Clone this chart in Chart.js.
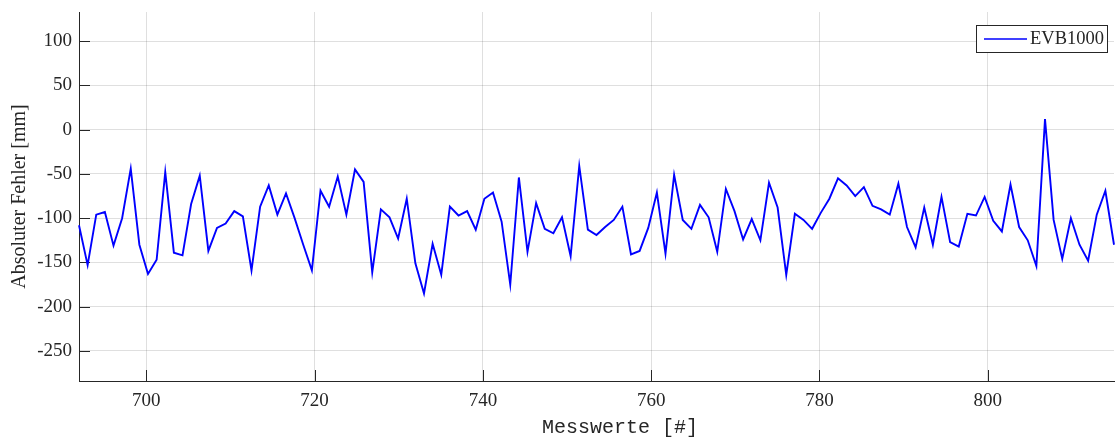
<!DOCTYPE html>
<html>
<head>
<meta charset="utf-8">
<script src="https://cdn.jsdelivr.net/npm/chart.js@4.4.1/dist/chart.umd.min.js"></script>
<style>
  html, body { margin: 0; padding: 0; background: #ffffff; }
  #wrap { width: 1115px; height: 437px; }
</style>
</head>
<body>
<div id="wrap"><canvas id="chart" width="1115" height="437"></canvas></div>
<script>
// Absolute error of the EVB1000 distance measurements, one value per sample [mm]
const seriesName = 'EVB1000';
const absError = [
  -108, -153,  -96,  -93, -131, -100,  -44, -130, -163, -147,
   -48, -139, -142,  -84,  -52, -137, -111, -106,  -92,  -98,
  -159,  -87,  -63,  -96,  -72, -100, -130, -159,  -69,  -87,
   -53,  -96,  -45,  -59, -161,  -90,  -99, -123,  -78, -151,
  -185, -129, -164,  -87,  -97,  -92, -113,  -78,  -71, -104,
  -175,  -54, -138,  -83, -112, -117,  -99, -143,  -41, -113,
  -119, -110, -102,  -87, -141, -137, -111,  -71, -140,  -51,
  -102, -112,  -85,  -99, -138,  -67,  -92, -124, -101, -125,
   -60,  -88, -164,  -95, -102, -112,  -94,  -78,  -55,  -63,
   -75,  -65,  -86,  -90,  -96,  -61, -110, -133,  -88, -130,
   -76, -127, -132,  -95,  -97,  -76, -103, -115,  -62, -110,
  -125, -154,   12, -102, -146, -100, -130, -148,  -96,  -69,
  -130
];
// Visible measurement-number axis and error axis
const xRange = [692, 815];
const xTicks = [700, 720, 740, 760, 780, 800];
const yRange = [-284, 133];
const yTicks = [-250, -200, -150, -100, -50, 0, 50, 100];

const sampleLabels = absError.map((_, i) => i + 1);

const INK = '#262626';
const GRID = 'rgba(38,38,38,0.15)';
const SERIF = '"Liberation Serif", "DejaVu Serif", serif';
const MONO = '"Liberation Mono", "DejaVu Sans Mono", monospace';

Chart.defaults.font.family = SERIF;
Chart.defaults.color = INK;

// Keep label overhang from shifting the plot area
function noOverhang(s) {
  s.paddingTop = 0;
  s.paddingBottom = 0;
  s.paddingLeft = 0;
  s.paddingRight = 0;
}

// Short tick marks pointing into the plot area
const inwardTicks = {
  id: 'inwardTicks',
  beforeDatasetsDraw(chart) {
    const { ctx, chartArea: a } = chart;
    const len = 11;
    ctx.save();
    ctx.strokeStyle = INK;
    ctx.lineWidth = 1;
    ctx.beginPath();
    chart.scales.y.ticks.forEach(t => {
      const py = Math.round(chart.scales.y.getPixelForValue(t.value)) + 0.5;
      ctx.moveTo(a.left, py);
      ctx.lineTo(a.left + len, py);
    });
    chart.scales.xMess.ticks.forEach(t => {
      const px = Math.round(chart.scales.xMess.getPixelForValue(t.value)) + 0.5;
      ctx.moveTo(px, a.bottom);
      ctx.lineTo(px, a.bottom - len);
    });
    ctx.stroke();
    ctx.restore();
  }
};

// Boxed legend in the upper right corner and the x axis caption
const boxLegend = {
  id: 'boxLegend',
  afterDraw(chart) {
    const { ctx } = chart;
    const ds = chart.data.datasets[0];
    const bx = 976.5, by = 25.5, bw = 131, bh = 27;
    ctx.save();
    ctx.fillStyle = '#ffffff';
    ctx.fillRect(bx, by, bw, bh);
    ctx.strokeStyle = INK;
    ctx.lineWidth = 1;
    ctx.strokeRect(bx, by, bw, bh);
    ctx.strokeStyle = ds.borderColor;
    ctx.lineWidth = 1.5;
    ctx.beginPath();
    ctx.moveTo(984, 39);
    ctx.lineTo(1027, 39);
    ctx.stroke();
    ctx.fillStyle = INK;
    ctx.font = '18.5px ' + SERIF;
    ctx.textAlign = 'left';
    ctx.textBaseline = 'middle';
    ctx.fillText(ds.label, 1030, 39.5);

    ctx.font = '20px ' + MONO;
    ctx.textAlign = 'center';
    ctx.fillText('Messwerte [#]', 620, 428);
    ctx.restore();
  }
};

new Chart(document.getElementById('chart'), {
  type: 'line',
  data: {
    labels: sampleLabels,
    datasets: [{
      label: seriesName,
      data: absError,
      borderColor: '#0000ff',
      borderWidth: 1.9,
      pointRadius: 0,
      tension: 0,
      fill: false
    }]
  },
  options: {
    responsive: false,
    animation: false,
    layout: { padding: { left: 0, right: 1, top: 12, bottom: 0 } },
    plugins: { legend: { display: false }, tooltip: { enabled: false } },
    scales: {
      x: { type: 'category', display: false, offset: false },
      xMess: {
        type: 'linear',
        position: 'bottom',
        min: xRange[0],
        max: xRange[1],
        afterBuildTicks: s => { s.ticks = xTicks.map(v => ({ value: v })); },
        afterFit: s => { s.height = 56; noOverhang(s); },
        grid: { color: GRID, drawTicks: false },
        border: { display: true, color: INK, width: 1 },
        ticks: { font: { size: 19 }, color: INK, padding: 9, maxRotation: 0 }
      },
      y: {
        type: 'linear',
        position: 'left',
        min: yRange[0],
        max: yRange[1],
        afterBuildTicks: s => { s.ticks = yTicks.map(v => ({ value: v })); },
        afterFit: s => { s.width = 79; noOverhang(s); },
        grid: { color: GRID, drawTicks: false },
        border: { display: true, color: INK, width: 1 },
        ticks: { font: { size: 19 }, color: INK, padding: 7 },
        title: {
          display: true,
          text: 'Absoluter Fehler [mm]',
          font: { size: 20 },
          color: INK,
          padding: { top: 8, bottom: 0 }
        }
      }
    }
  },
  plugins: [inwardTicks, boxLegend]
});
</script>
</body>
</html>
